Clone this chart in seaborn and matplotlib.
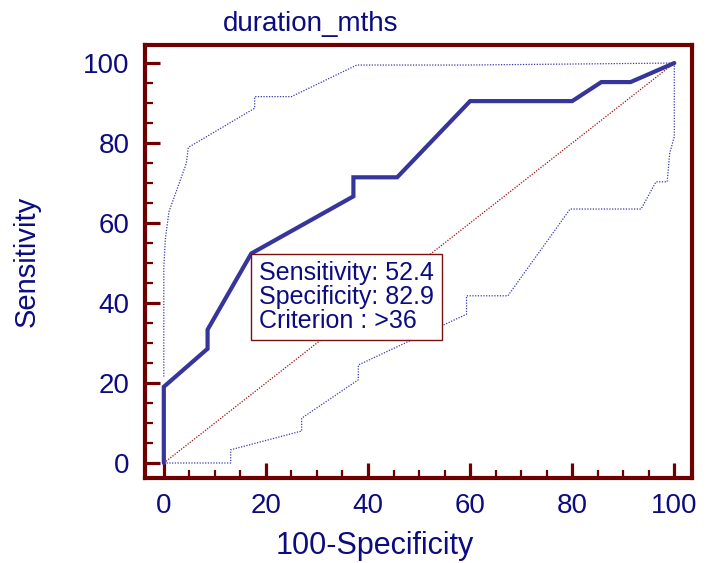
import matplotlib
matplotlib.use("Agg")
import matplotlib.pyplot as plt
import seaborn as sns
from matplotlib.ticker import MultipleLocator

# ---- data ----
roc_x = [0, 0, 8.57, 8.57, 17.14, 37.14, 37.14, 45.71, 60.0, 80.0, 85.71, 91.43, 100]
roc_y = [0, 19.05, 28.57, 33.33, 52.38, 66.67, 71.43, 71.43, 90.48, 90.48, 95.24, 95.24, 100]

upper_x = [0, 0, 0.3, 1.0, 4.4, 4.8, 17.8, 17.8, 25.0, 37.8, 59.3, 100]
upper_y = [21.6, 49.0, 56.0, 62.8, 74.9, 78.9, 88.7, 91.6, 91.6, 99.5, 99.5, 100]

lower_x = [0, 13.1, 13.1, 27.0, 27.0, 38.1, 38.1, 59.3, 59.3, 67.4, 79.6, 93.5, 96.4, 98.6, 99.1, 100, 100]
lower_y = [0, 0, 3.3, 8.0, 11.2, 20.8, 24.5, 37.2, 41.8, 41.8, 63.5, 63.5, 70.3, 70.3, 77.4, 81.6, 100]

diag_x = [0, 100]
diag_y = [0, 100]

title = "duration_mths"
xlabel = "100-Specificity"
ylabel = "Sensitivity"
ann_lines = ["Sensitivity: 52.4", "Specificity: 82.9", "Criterion : >36"]
ann_point = (17.14, 52.38)
xticks = [0, 20, 40, 60, 80, 100]
yticks = [0, 20, 40, 60, 80, 100]

# ---- style ----
sns.set_theme(style="white")
plt.rcParams['font.family'] = ['Liberation Sans', 'DejaVu Sans']

navy = "#0c0c80"
maroon = "#6e0000"
curve = "#35359c"
ci = "#3a3ab0"

fig = plt.figure(figsize=(7.07, 5.63), dpi=100)
ax = fig.add_axes([0.205, 0.151, 0.774, 0.769])

sns.lineplot(x=diag_x, y=diag_y, ax=ax, color="#a01010", lw=0.9,
             linestyle=(0, (1, 1.2)), sort=False, estimator=None)
sns.lineplot(x=upper_x, y=upper_y, ax=ax, color=ci, lw=0.9,
             linestyle=(0, (1, 1.2)), sort=False, estimator=None)
sns.lineplot(x=lower_x, y=lower_y, ax=ax, color=ci, lw=0.9,
             linestyle=(0, (1, 1.2)), sort=False, estimator=None)
sns.lineplot(x=roc_x, y=roc_y, ax=ax, color=curve, lw=3.0,
             sort=False, estimator=None, solid_joinstyle="miter")

ax.set_xlim(-3.7, 103.5)
ax.set_ylim(-3.75, 104.5)

ax.xaxis.set_minor_locator(MultipleLocator(5))
ax.yaxis.set_minor_locator(MultipleLocator(5))
ax.set_xticks(xticks)
ax.set_yticks(yticks)

ax.tick_params(axis="both", which="major", direction="in", length=11, width=2.3,
               color=maroon, labelcolor=navy, labelsize=20, pad=11,
               bottom=True, left=True, top=False, right=False)
ax.tick_params(axis="both", which="minor", direction="in", length=5.5, width=1.6,
               color=maroon, bottom=True, left=True, top=False, right=False)

for s in ax.spines.values():
    s.set_color(maroon)
    s.set_linewidth(3.0)
    s.set_visible(True)

ax.set_xlabel(xlabel, color=navy, fontsize=22)
ax.xaxis.set_label_coords(0.42, -0.122)
ax.set_ylabel(ylabel, color=navy, fontsize=21)
ax.yaxis.set_label_coords(-0.19, 0.5)
ax.set_title(title, color=navy, fontsize=20, pad=10, x=0.302)

ax.annotate("\n".join(ann_lines), xy=ann_point, xytext=(5.6, -5.6),
            textcoords="offset points", ha="left", va="top",
            fontsize=18, color=navy, linespacing=0.98,
            bbox=dict(boxstyle="square,pad=0.31", fc="white", ec="#7a1010", lw=1.0))

fig.savefig("out.png", dpi=100)
